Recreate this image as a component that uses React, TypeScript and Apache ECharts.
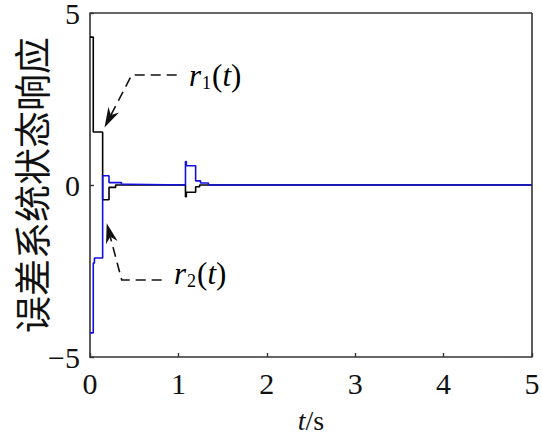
import React, { useEffect, useRef } from "react";
import * as echarts from "echarts";

// r1(t): black error state response (step points: time, value held until next time)
const r1Times = [0, 0.037, 0.143, 0.215, 0.29, 1.08, 1.09, 1.195, 1.24, 5];
const r1Values = [4.3, 1.54, -0.43, -0.07, 0, -0.34, -0.21, -0.05, 0, 0];

// r2(t): blue error state response
const r2Times = [0, 0.037, 0.05, 0.143, 0.215, 0.356, 0.43, 1.08, 1.09, 1.195, 1.25, 1.34, 5];
const r2Values = [-4.3, -2.27, -2.12, 0.27, 0.07, 0.02, 0, 0.68, 0.56, 0.12, 0.06, 0, 0];

const xTicks = [0, 1, 2, 3, 4, 5];
const yTicks = [-5, 0, 5];

const serif = "'Liberation Serif', 'DejaVu Serif', serif";

function pairs(ts: number[], vs: number[]) {
  return ts.map((t, i) => [t, vs[i]]);
}

function arrow(tip: [number, number], from: [number, number]) {
  const dx = from[0] - tip[0];
  const dy = from[1] - tip[1];
  const len = Math.hypot(dx, dy);
  const d = [dx / len, dy / len];
  const n = [-d[1], d[0]];
  const L = 20, w = 6;
  const B = [tip[0] + d[0] * L, tip[1] + d[1] * L];
  const notch = [tip[0] + d[0] * L * 0.7, tip[1] + d[1] * L * 0.7];
  return {
    notch,
    poly: [
      [tip[0], tip[1]],
      [B[0] + n[0] * w, B[1] + n[1] * w],
      notch,
      [B[0] - n[0] * w, B[1] - n[1] * w],
    ],
  };
}

export default function App() {
  const ref = useRef<HTMLDivElement>(null);
  useEffect(() => {
    if (!ref.current) return;
    const chart = echarts.init(ref.current, null, { renderer: "svg" });
    const a1 = arrow([104.5, 127.5], [131.7, 75]);
    const a2 = arrow([106.7, 223.3], [121.7, 280]);
    const dash = { stroke: "#111", lineWidth: 1.6, lineDash: [10, 6] };
    const labelRich = {
      i: { fontFamily: serif, fontStyle: "italic", fontSize: 31, color: "#111" },
      n: { fontFamily: serif, fontSize: 31, color: "#111" },
      s: { fontFamily: serif, fontSize: 18, color: "#111", padding: [16, 1, 0, 1] },
    };
    chart.setOption({
      animation: false,
      backgroundColor: "#fff",
      grid: {
        left: 90,
        top: 13,
        right: 10,
        bottom: 77,
        containLabel: false,
        outerBoundsMode: "none",
      },
      xAxis: {
        type: "value",
        min: 0,
        max: 5,
        interval: 1,
        name: "{i|t}{n|/s}",
        nameLocation: "middle",
        nameGap: 52,
        nameMoveOverlap: false,
        nameTextStyle: {
          rich: {
            i: { fontFamily: serif, fontStyle: "italic", fontSize: 28, lineHeight: 22, color: "#111" },
            n: { fontFamily: serif, fontSize: 28, lineHeight: 22, color: "#111" },
          },
        },
        axisLine: { show: true, onZero: false, lineStyle: { color: "#333", width: 1.6 } },
        axisTick: { show: true, inside: true, length: 4, lineStyle: { color: "#333", width: 1.4 } },
        axisLabel: {
          fontFamily: serif,
          fontSize: 30,
          lineHeight: 24,
          color: "#111",
          margin: 14,
          customValues: xTicks,
        },
        splitLine: { show: false },
      },
      yAxis: {
        type: "value",
        min: -5,
        max: 5,
        interval: 5,
        name: "误差系统状态响应",
        nameLocation: "middle",
        nameGap: 41,
        nameMoveOverlap: false,
        nameTextStyle: {
          fontFamily: "'Noto Sans CJK SC', sans-serif",
          fontSize: 37,
          lineHeight: 37,
          color: "#111",
        },
        axisLine: { show: true, onZero: false, lineStyle: { color: "#333", width: 1.6 } },
        axisTick: { show: true, inside: true, length: 4, lineStyle: { color: "#333", width: 1.4 } },
        axisLabel: {
          fontFamily: serif,
          fontSize: 30,
          lineHeight: 24,
          color: "#111",
          margin: 10,
          customValues: yTicks,
          formatter: (v: number) => (v < 0 ? "\u2212" + Math.abs(v) : String(v)),
        },
        splitLine: { show: false },
      },
      graphic: [
        { type: "line", shape: { x1: 90, y1: 13, x2: 532, y2: 13 }, style: { stroke: "#333", lineWidth: 1.6 }, z: 10 },
        { type: "line", shape: { x1: 532, y1: 13, x2: 532, y2: 357 }, style: { stroke: "#333", lineWidth: 1.6 }, z: 10 },
        { type: "polyline", shape: { points: [[176.7, 75], [131.7, 75], a1.notch] }, style: { ...dash, fill: null }, z: 20 },
        { type: "polygon", shape: { points: a1.poly }, style: { fill: "#111" }, z: 20 },
        {
          type: "text",
          x: 189,
          y: 75,
          style: { text: "{i|r}{s|1}{n|(}{i|t}{n|)}", rich: labelRich, verticalAlign: "middle" },
          z: 20,
        },
        { type: "polyline", shape: { points: [[161.7, 280], [121.7, 280], a2.notch] }, style: { ...dash, fill: null }, z: 20 },
        { type: "polygon", shape: { points: a2.poly }, style: { fill: "#111" }, z: 20 },
        {
          type: "text",
          x: 174,
          y: 273,
          style: { text: "{i|r}{s|2}{n|(}{i|t}{n|)}", rich: labelRich, verticalAlign: "middle" },
          z: 20,
        },
      ],
      series: [
        {
          type: "line",
          name: "r1",
          data: pairs(r1Times, r1Values),
          step: "end",
          showSymbol: false,
          symbol: "none",
          lineStyle: { color: "#000", width: 1.6 },
          z: 2,
        },
        {
          type: "line",
          name: "r2",
          data: pairs(r2Times, r2Values),
          step: "end",
          showSymbol: false,
          symbol: "none",
          lineStyle: { color: "#1010e0", width: 1.6 },
          z: 3,
        },
      ],
    });
    return () => chart.dispose();
  }, []);
  return (
    <div
      ref={ref}
      style={{ position: "absolute", left: 0, top: 0, width: 542, height: 434 }}
    />
  );
}
